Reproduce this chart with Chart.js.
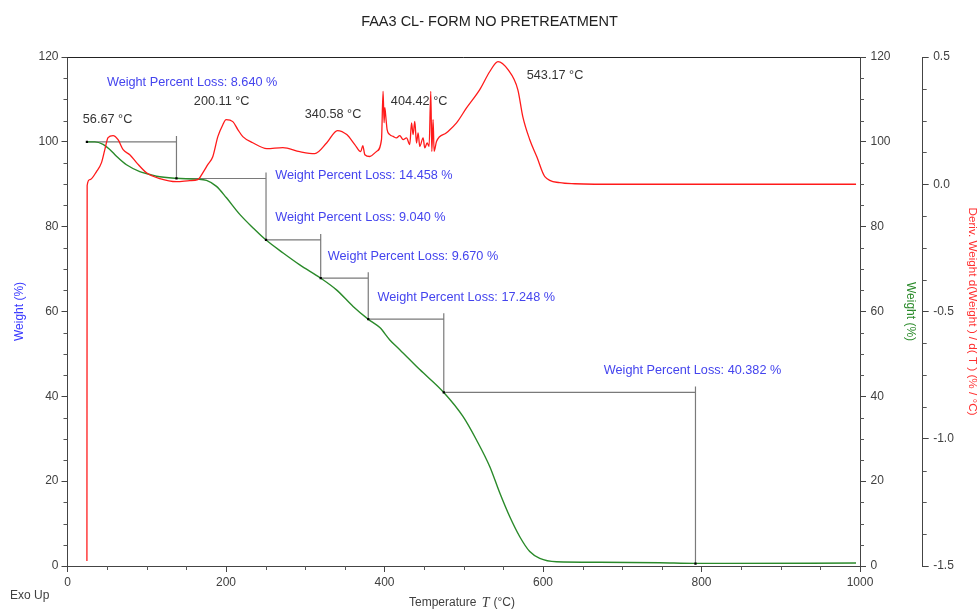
<!DOCTYPE html>
<html><head><meta charset="utf-8">
<script src="https://cdn.jsdelivr.net/npm/chart.js@4.4.1/dist/chart.umd.min.js"></script>
<style>html,body{margin:0;padding:0;background:#fff}#wrap{width:979px;height:609px}</style>
</head><body><div id="wrap"><canvas id="c"></canvas></div>
<script>
// ── TGA: FAA3 CL- form, no pretreatment ──────────────
// weight curve (left / inner right axis, %)
const weightT=[24.5,34.5,44.9,53.4,61.8,74.4,91.2,104,112.3,137.5,162.8,175.4,188.0,200.6,217.4,234.2,250.2,272.1,293.1,319.2,339.4,360.4,379.3,394.1,406.7,419.3,444.5,474.8,499.2,516.1,532.9,545.5,558.1,570.7,583.3,595.9,617.0,671.6,747.4,792.4,830,995];
const weightVal=[100,100,99.4,98.2,96.6,94.6,93.0,92.3,91.9,91.4,91.2,90.9,89.5,86.8,82.9,79.7,76.9,73.8,71.0,67.9,65.1,61.2,58.2,56.2,53.3,51.0,46.3,40.9,35.2,29.7,23.4,17.2,11.6,6.9,3.4,1.8,1.0,0.87,0.75,0.62,0.62,0.7];

// derivative curve (outer right axis, %/°C)
const derivT=[24.5,24.8,28.1,36.6,42.9,47.1,51.2,57.5,63.8,70.2,78.6,87.1,99.7,116.5,137.5,154.3,164.4,170.7,177.0,183.3,189.7,196.0,200.1,208.6,214.9,221.2,233.8,251.5,271.7,293.1,312.0,327.2,340.6,352.4,362.5,370.0,372.6,375.2,381.5,389.9,396.2,398.2,399.5,400.4,401.6,403.3,406.7,410.9,415.1,419.3,423.5,427.8,431.9,434.1,436.1,438.2,440.4,442.4,444.5,448.7,450.8,453.8,456.3,458.4,459.7,461.3,462.6,465.6,478.2,490.9,503.5,520.2,532.9,543.2,555.6,568.2,574.5,583.3,592.2,602.3,621.2,640,700,800,900,995];
const derivVal=[-1.48,-0.005,0.018,0.050,0.085,0.136,0.183,0.191,0.175,0.136,0.116,0.085,0.045,0.022,0.010,0.014,0.018,0.045,0.077,0.108,0.187,0.234,0.254,0.246,0.215,0.187,0.163,0.140,0.144,0.128,0.120,0.163,0.211,0.195,0.156,0.128,0.152,0.116,0.109,0.129,0.175,0.365,0.242,0.301,0.267,0.215,0.195,0.188,0.182,0.191,0.175,0.182,0.156,0.241,0.195,0.247,0.162,0.202,0.149,0.182,0.143,0.162,0.149,0.365,0.129,0.254,0.129,0.168,0.202,0.241,0.300,0.372,0.443,0.482,0.451,0.372,0.266,0.175,0.108,0.030,0.006,0.002,0,0,0,0];

// step analysis (°C, weight %)
const stepT=[24.5,137.5,250.5,319.5,379.5,474.8,792.4];
const stepW=[100,91.36,76.9,67.86,58.19,40.94,0.56];
const lossPct=['8.640','14.458','9.040','9.670','17.248','40.382'];
const peakT=['56.67','200.11','340.58','404.42','543.17'];

// tick labels
const xTicks=[0,200,400,600,800,1000];
const wTicks=[0,20,40,60,80,100,120];
const dTicks=[-1.5,-1.0,-0.5,0.0,0.5];

// label anchors [T, weight%]
const lossAt=[[49.7,114.0],[262,92.1],[262,82.1],[328.4,72.9],[391.2,63.3],[676.7,46.0]];
const peakAt=[[19.3,105.3],[159.4,109.5],[299.4,106.4],[408,109.5],[579.5,115.7]];

const FONT='"Liberation Sans", Arial, sans-serif';
Chart.defaults.font.family=FONT;
Chart.defaults.font.size=12;
Chart.defaults.color='#404040';

const pts=(xs,ys)=>xs.map((x,i)=>({x,y:ys[i]}));
const OVER=1.4; // vertical guide overshoot
const stepPath=[];
stepT.forEach((t,i)=>{
  stepPath.push({x:t,y:stepW[i]});
  if(i<stepT.length-1){
    stepPath.push({x:stepT[i+1],y:stepW[i]});
    stepPath.push({x:stepT[i+1],y:stepW[i]+OVER});
  }
});

const axisBase=(pos)=>({
  position:pos,
  grid:{drawOnChartArea:false,drawTicks:true,tickLength:6,tickColor:'#444'},
  border:{display:true,color:'#444',width:1},
});

const extras={
  id:'extras',
  afterDraw(ch){
    const {ctx,chartArea:a,scales:s}=ch;
    ctx.save();
    ctx.strokeStyle='#222';ctx.lineWidth=1;
    const ty=Math.round(a.top)+.5;
    ctx.beginPath();ctx.moveTo(a.left,ty);ctx.lineTo(a.right,ty);ctx.stroke();
    // minor ticks
    const minor=(sc,step,major,draw)=>{
      for(let v=sc.min;v<=sc.max+1e-9;v+=step){
        const r=v/major;if(Math.abs(r-Math.round(r))<1e-6)continue;
        draw(Math.round(sc.getPixelForValue(v))+.5);
      }
    };
    ctx.strokeStyle='#555';
    ctx.beginPath();
    minor(s.x,50,200,p=>{ctx.moveTo(p,a.bottom);ctx.lineTo(p,a.bottom+4);});
    minor(s.y,5,20,p=>{ctx.moveTo(a.left,p);ctx.lineTo(a.left-4,p);});
    minor(s.y2,5,20,p=>{ctx.moveTo(a.right,p);ctx.lineTo(a.right+4,p);});
    minor(s.y3,0.125,0.5,p=>{ctx.moveTo(s.y3.left,p);ctx.lineTo(s.y3.left+4,p);});
    ctx.stroke();
    // notes
    ctx.textAlign='left';ctx.textBaseline='middle';
    ctx.font='12.7px '+FONT;
    ctx.fillStyle='#4444ee';
    lossPct.forEach((l,i)=>ctx.fillText('Weight Percent Loss: '+l+' %',s.x.getPixelForValue(lossAt[i][0]),s.y.getPixelForValue(lossAt[i][1])));
    ctx.fillStyle='#333';
    peakT.forEach((p,i)=>ctx.fillText(p+' °C',s.x.getPixelForValue(peakAt[i][0]),s.y.getPixelForValue(peakAt[i][1])));
    ctx.font='12px '+FONT;
    ctx.fillStyle='#404040';
    ctx.fillText('Exo Up',10,596);
    // x title with italic T
    let x=409;const y=603;
    ctx.fillText('Temperature ',x,y);x+=ctx.measureText('Temperature ').width+2;
    ctx.font='italic 14px "Liberation Serif", serif';
    ctx.fillText('T',x,y);x+=ctx.measureText('T').width+4;
    ctx.font='12px '+FONT;
    ctx.fillText('(°C)',x,y);
    ctx.restore();
  }
};

new Chart(document.getElementById('c'),{
  type:'line',
  data:{datasets:[
    {label:'steps-dots',data:pts(stepT,stepW),xAxisID:'x',yAxisID:'y',showLine:false,pointRadius:1.6,pointStyle:'rect',pointBackgroundColor:'#000',pointBorderWidth:0},
    {label:'deriv',data:pts(derivT,derivVal),xAxisID:'x',yAxisID:'y3',borderColor:'#ff1a1a',borderWidth:1.3,pointRadius:0,cubicInterpolationMode:'monotone'},
    {label:'weight',data:pts(weightT,weightVal),xAxisID:'x',yAxisID:'y2',borderColor:'#2a8a2a',borderWidth:1.4,pointRadius:0,cubicInterpolationMode:'monotone'},
    {label:'steps',data:stepPath,xAxisID:'x',yAxisID:'y',borderColor:'#7a7a7a',borderWidth:1.2,pointRadius:0,tension:0},
  ]},
  options:{
    responsive:true,maintainAspectRatio:false,animation:false,devicePixelRatio:1,
    layout:{padding:0},
    plugins:{
      legend:{display:false},tooltip:{enabled:false},
      title:{display:true,text:'FAA3 CL- FORM NO PRETREATMENT',color:'#222',font:{size:14.5,weight:'normal'},padding:{top:13,bottom:26.6}},
    },
    scales:{
      x:{...axisBase('bottom'),type:'linear',min:0,max:1000,
        ticks:{stepSize:200,padding:3,callback:v=>xTicks.includes(v)?String(v):''},
        afterFit(sc){sc.height=43;}},
      y:{...axisBase('left'),min:0,max:120,
        ticks:{stepSize:20,padding:3,callback:v=>wTicks.includes(v)?String(v):''},
        title:{display:true,text:'Weight (%)',color:'#3a3aff',font:{size:12},padding:{top:12.8,bottom:0}},
        afterFit(sc){sc.width=67.5;}},
      y2:{...axisBase('right'),min:0,max:120,
        ticks:{stepSize:20,padding:4.5,callback:v=>wTicks.includes(v)?String(v):''},
        title:{display:true,text:'Weight (%)',color:'#2a8a2a',font:{size:12},padding:{top:5.5,bottom:0}},
        afterFit(sc){sc.width=62.7;}},
      y3:{...axisBase('right'),min:-1.5,max:0.5,
        ticks:{stepSize:0.5,padding:4.5,callback:v=>dTicks.some(d=>Math.abs(d-v)<1e-9)?Number(v).toFixed(1):''},
        title:{display:true,text:'Deriv. Weight d(Weight ) / d( T ) (% / °C)',color:'#ff3030',font:{size:11.7},padding:{top:0,bottom:0}},
        afterFit(sc){sc.width=56.3;}},
    }
  },
  plugins:[extras]
});
</script></body></html>
